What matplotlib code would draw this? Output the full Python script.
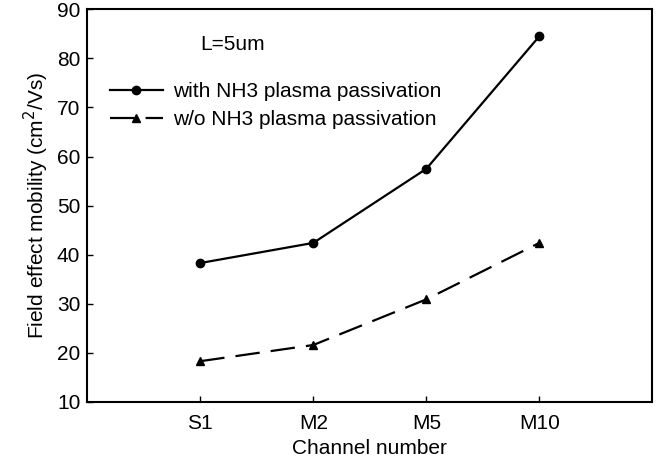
import matplotlib
matplotlib.use("Agg")
import matplotlib.pyplot as plt

# === Data ===
channels = ["S1", "M2", "M5", "M10"]
with_nh3 = [38.3, 42.4, 57.5, 84.5]
without_nh3 = [18.3, 21.6, 30.9, 42.4]

plt.rcParams["font.family"] = ["Liberation Sans", "DejaVu Sans"]
FS = 15

fig = plt.figure(figsize=(6.61, 4.62), dpi=100)
ax = fig.add_axes([0.132, 0.13, 0.855, 0.85])

x = list(range(1, len(channels) + 1))
ax.plot(x, with_nh3, color="black", lw=1.6, marker="o", ms=6,
        label="with NH3 plasma passivation")
ax.plot(x, without_nh3, color="black", lw=1.6, marker="^", ms=6,
        dashes=(11, 5), label="w/o NH3 plasma passivation")

ax.set_xlim(0, 5)
ax.set_ylim(10, 90)
ax.set_xticks(x)
ax.set_xticklabels(channels)
ax.set_yticks(range(10, 91, 10))
ax.tick_params(direction="in", length=4, width=1, labelsize=FS)
ax.tick_params(axis="x", pad=9)
ax.tick_params(axis="y", pad=5)
for s in ax.spines.values():
    s.set_linewidth(1.5)

ax.set_xlabel("Channel number", fontsize=FS, labelpad=4)
ax.set_ylabel("Field effect mobility (cm$^2$/Vs)", fontsize=FS, labelpad=4)

ax.text(0.2, 0.91, "L=5um", transform=ax.transAxes, fontsize=FS, va="center")
ax.legend(loc="upper left", bbox_to_anchor=(0.041, 0.815), frameon=False,
          borderpad=0, borderaxespad=0,
          fontsize=FS, handlelength=2.5, handletextpad=0.5, labelspacing=0.45)

fig.savefig("out.png", dpi=100)
